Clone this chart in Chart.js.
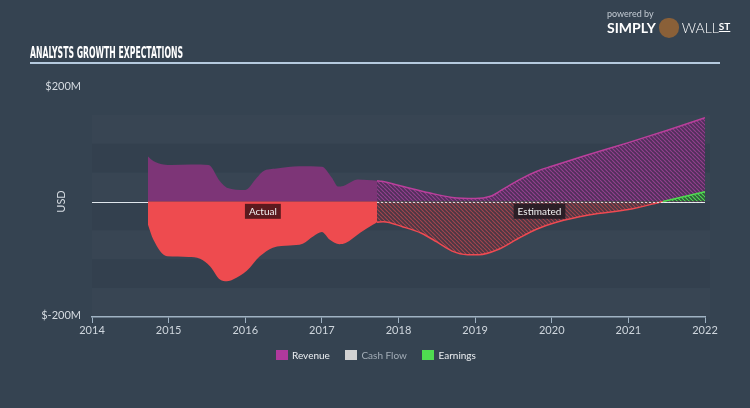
<!DOCTYPE html>
<html>
<head>
<meta charset="utf-8">
<script src="https://cdn.jsdelivr.net/npm/chart.js@4.4.0/dist/chart.umd.min.js"></script>
<style>
  html, body { margin: 0; padding: 0; }
  body { width: 750px; height: 408px; background: #354351; overflow: hidden; position: relative; font-family: Lato, "Open Sans", sans-serif; }
  #chart { position: absolute; left: 0; top: 0; }
  #title { position: absolute; left: 30px; top: 43px; color: #fff; font: bold 16px "Liberation Sans Narrow", "DejaVu Sans Condensed", sans-serif; transform-origin: 0 0; white-space: nowrap; }
  #rule { position: absolute; left: 30px; top: 62px; width: 690px; height: 2px; background: #b5cade; }
  #logo { position: absolute; left: 607px; top: 8px; color: #fff; white-space: nowrap; }
  #logo .pw { font-size: 9px; color: #c3cbd3; }
  #logo .sw { font-size: 14px; margin-top: -1px; }
  #logo .bull { display: inline-block; width: 20px; height: 20px; border-radius: 45% 45% 50% 50%; background: #8a6038; vertical-align: -5px; margin: 0 3px; }
  #logo .st { font-size: 10px; font-weight: bold; text-decoration: underline; vertical-align: 3px; }
  #legend { position: absolute; top: 349px; left: 276px; font-size: 10px; white-space: nowrap; }
  #legend span.box { display: inline-block; width: 12px; height: 10px; vertical-align: -1px; margin-right: 4px; }
  #legend span.item { margin-right: 13px; }
</style>
</head>
<body>
<canvas id="chart" width="750" height="408"></canvas>
<div id="title">ANALYSTS GROWTH EXPECTATIONS</div>
<div id="rule"></div>
<div id="logo">
  <div class="pw">powered by</div>
  <div class="sw"><b>SIMPLY</b><span class="bull"></span><span style="font-weight:300">WALL</span><span class="st">ST</span></div>
</div>
<div id="legend">
  <span class="item" style="color:#eceff2"><span class="box" style="background:#b0399d"></span>Revenue</span>
  <span class="item" style="color:#a3adb7"><span class="box" style="background:#d2d2d2"></span>Cash Flow</span>
  <span class="item" style="color:#eceff2"><span class="box" style="background:#4fdc50"></span>Earnings</span>
</div>
<script>
// data (USD millions, x = decimal year)
const revenueActualX = [2014.73, 2014.8, 2014.93, 2015.04, 2015.3, 2015.52, 2015.67, 2015.76, 2016.0, 2016.15, 2016.23, 2016.41, 2016.71, 2017.0, 2017.13, 2017.21, 2017.28, 2017.47, 2017.72];
const revenueActual  = [78, 70, 64, 63, 64, 63, 35, 24, 20, 41, 52, 57, 61, 60, 41, 26, 27, 38, 36];
const revenueEstX = [2017.72, 2017.78, 2018.06, 2018.4, 2018.7, 2019.0, 2019.2, 2019.36, 2019.58, 2019.8, 2020.0, 2020.4, 2021.0, 2021.5, 2022.0];
const revenueEst  = [36, 35, 26, 15, 7, 5, 9, 21, 38, 52, 61, 78, 102, 123, 145];

const earningsActualX = [2014.73, 2014.8, 2014.98, 2015.26, 2015.41, 2015.54, 2015.67, 2015.76, 2015.84, 2016.02, 2016.19, 2016.36, 2016.58, 2016.75, 2016.89, 2017.0, 2017.1, 2017.23, 2017.31, 2017.5, 2017.67, 2017.72];
const earningsActual  = [-40, -66, -95, -96, -99, -112, -135, -138, -135, -120, -95, -80, -76, -73, -60, -53, -66, -74, -72, -54, -40, -36];
const earningsEstX = [2017.72, 2017.8, 2018.06, 2018.3, 2018.5, 2018.7, 2018.9, 2019.05, 2019.3, 2019.55, 2019.8, 2020.06, 2020.5, 2021.0, 2021.45, 2022.0];
const earningsEst  = [-36, -35, -44, -55, -70, -86, -92, -92, -83, -65, -48, -36, -23, -14, 0, 17];

const cashFlowX = [];
const cashFlow = [];

const yearTicks = [2014, 2015, 2016, 2017, 2018, 2019, 2020, 2021, 2022];
const splitYear = 2017.72;

function pts(xs, ys) { return xs.map((x, i) => ({ x: x, y: ys[i] })); }

function hatch(bg, line) {
  const s = 4;
  const c = document.createElement('canvas');
  c.width = s; c.height = s;
  const g = c.getContext('2d');
  g.fillStyle = bg; g.fillRect(0, 0, s, s);
  g.strokeStyle = line; g.lineWidth = 1.2;
  g.beginPath();
  for (let k = -1; k <= 1; k++) { g.moveTo(k * s, 0); g.lineTo(k * s + s, s); }
  g.stroke();
  return g.createPattern(c, 'repeat');
}

const revHatch = hatch('rgba(84,46,92,0.9)', '#94408e');
const redHatch = hatch('rgba(78,54,66,0.9)', '#a2454e');
const greenHatch = hatch('rgba(44,96,56,0.95)', '#52d855');

const extras = {
  id: 'extras',
  beforeDatasetsDraw(chart) {
    const { ctx, chartArea: a, scales: { x, y } } = chart;
    ctx.save();
    let i = 0;
    for (let v = 150; v > -200; v -= 50, i++) {
      const t = y.getPixelForValue(v), b = y.getPixelForValue(v - 50);
      ctx.fillStyle = i % 2 === 0 ? 'rgba(255,255,255,0.015)' : 'rgba(0,0,0,0.03)';
      ctx.fillRect(a.left, t, a.right - a.left + 5, b - t);
    }
    const z = Math.round(y.getPixelForValue(0)) + 0.5;
    ctx.strokeStyle = '#dfe6ec'; ctx.lineWidth = 1;
    ctx.beginPath(); ctx.moveTo(a.left, z); ctx.lineTo(a.right, z); ctx.stroke();
    ctx.restore();
  },
  afterDatasetsDraw(chart) {
    const { ctx, chartArea: a, scales: { x, y } } = chart;
    ctx.save();
    const z = Math.round(y.getPixelForValue(0)) + 0.5;
    ctx.strokeStyle = 'rgba(240,240,240,0.85)'; ctx.lineWidth = 1;
    ctx.setLineDash([2, 2]);
    ctx.beginPath(); ctx.moveTo(x.getPixelForValue(splitYear), z); ctx.lineTo(a.right, z); ctx.stroke();
    ctx.setLineDash([]);
    ctx.font = '10px Lato, "Open Sans", sans-serif';
    ctx.textAlign = 'center'; ctx.textBaseline = 'middle';
    const tag = (text, xv, bg) => {
      const cx = x.getPixelForValue(xv), cy = y.getPixelForValue(-17);
      const w = ctx.measureText(text).width + 8;
      ctx.fillStyle = bg;
      ctx.fillRect(cx - w / 2, cy - 7.5, w, 15);
      ctx.fillStyle = '#f2f2f2';
      ctx.fillText(text, cx, cy);
    };
    tag('Actual', 2016.23, '#5b1a1e');
    tag('Estimated', 2019.84, 'rgba(38,28,36,0.92)');
    ctx.restore();
  },
  afterDraw(chart) {
    const { ctx, scales: { y } } = chart;
    ctx.save();
    ctx.fillStyle = '#d5dbe1';
    ctx.font = '11px Lato, "Open Sans", sans-serif';
    ctx.textAlign = 'right'; ctx.textBaseline = 'middle';
    ctx.fillText('$200M', 81, y.getPixelForValue(200));
    ctx.fillText('$-200M', 81, y.getPixelForValue(-200) - 2);
    ctx.translate(61, y.getPixelForValue(0));
    ctx.rotate(-Math.PI / 2);
    ctx.textAlign = 'center';
    ctx.fillText('USD', 0, 0);
    ctx.restore();
  }
};

new Chart(document.getElementById('chart'), {
  type: 'line',
  data: {
    datasets: [
      { label: 'Revenue', order: 3, data: pts(revenueActualX, revenueActual), borderWidth: 0, backgroundColor: '#7d3577', fill: 'origin' },
      { label: 'Revenue est', order: 3, data: pts(revenueEstX, revenueEst), borderColor: '#bb3f9c', borderWidth: 1.5, backgroundColor: revHatch, fill: 'origin' },
      { label: 'Cash Flow', order: 2, data: pts(cashFlowX, cashFlow), borderColor: '#d2d2d2', borderWidth: 1.5, fill: false },
      { label: 'Earnings', order: 1, data: pts(earningsActualX, earningsActual), borderWidth: 0, backgroundColor: '#ee4b4f', fill: 'origin' },
      { label: 'Earnings est', order: 0, data: pts(earningsEstX, earningsEst), borderColor: '#ef4a52', borderWidth: 1.5,
        segment: { borderColor: c => (c.p1.parsed.y > 0 ? '#4fdc50' : '#ef4a52') },
        fill: { target: 'origin', above: greenHatch, below: redHatch } }
    ]
  },
  options: {
    responsive: false,
    animation: false,
    elements: { point: { radius: 0 }, line: { cubicInterpolationMode: 'monotone' } },
    layout: { padding: { left: 92, right: 45, top: 86, bottom: 0 } },
    plugins: { legend: { display: false }, tooltip: { enabled: false } },
    scales: {
      x: {
        type: 'linear', min: 2014, max: 2022,
        afterFit: s => { s.height = 91; },
        afterBuildTicks: s => { s.ticks = yearTicks.map(v => ({ value: v })); },
        ticks: { color: '#cfd6dd', font: { size: 11, family: 'Lato' }, padding: 1, maxRotation: 0, callback: v => String(v) },
        grid: { drawOnChartArea: false, color: '#9fb2c3', tickLength: 6 },
        border: { color: '#9fb2c3', width: 1.5 }
      },
      y: { min: -200, max: 200, display: false }
    }
  },
  plugins: [extras]
});

const t = document.getElementById('title');
t.style.transform = 'scaleX(' + (153 / t.offsetWidth) + ')';
</script>
</body>
</html>
